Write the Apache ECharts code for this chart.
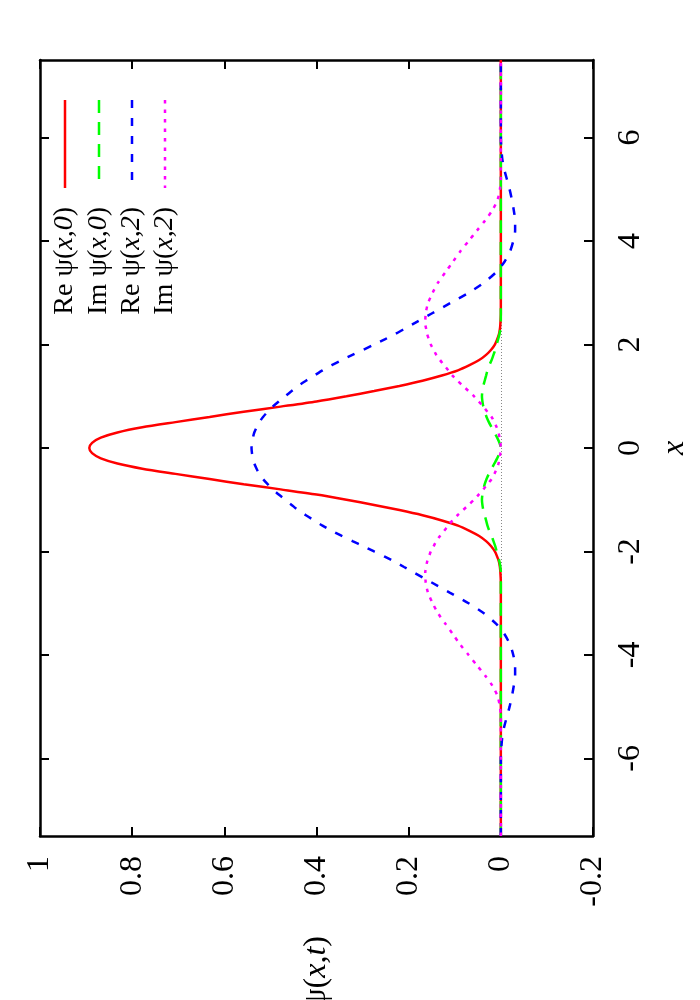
<!DOCTYPE html>
<html><head><meta charset="utf-8">
<script src="https://cdn.jsdelivr.net/npm/echarts@6/dist/echarts.min.js"></script>
<style>html,body{margin:0;padding:0;background:#fff}#c{width:700px;height:1000px}</style>
</head><body><div id="c"></div>
<script>
// x positions (independent variable, drawn on the vertical axis)
const xs = [-7.5,-7,-6.5,-6,-5.8,-5.6,-5.4,-5.2,-5,-4.8,-4.6,-4.4,-4.2,-4,-3.8,-3.6,-3.4,-3.2,-3,-2.8,-2.6,
  -2.4,-2.3,-2.2,-2.1,-2,-1.9,-1.8,-1.7,-1.6,-1.5,-1.4,-1.3,-1.2,-1.1,-1,-0.9,-0.8,-0.7,-0.6,-0.5,-0.4,-0.3,-0.2,-0.1,
  0,
  0.1,0.2,0.3,0.4,0.5,0.6,0.7,0.8,0.9,1,1.1,1.2,1.3,1.4,1.5,1.6,1.7,1.8,1.9,2,2.1,2.2,2.3,2.4,
  2.6,2.8,3,3.2,3.4,3.6,3.8,4,4.2,4.4,4.6,4.8,5,5.2,5.4,5.6,5.8,6,6.5,7,7.5];

// Re psi(x,0)
const reX0 = [0,0,0,0,0,0,0,0,0,0,0,0,0,0,0,0,0,0,0,0,0,
  0.001,0.002,0.004,0.008,0.013,0.021,0.032,0.047,0.068,0.093,0.128,0.17,0.22,0.275,0.335,0.4,0.478,0.558,0.632,0.706,0.778,0.832,0.868,0.887,
  0.893,
  0.887,0.868,0.832,0.778,0.706,0.632,0.558,0.478,0.4,0.335,0.275,0.22,0.17,0.128,0.093,0.068,0.047,0.032,0.021,0.013,0.008,0.004,0.002,0.001,
  0,0,0,0,0,0,0,0,0,0,0,0,0,0,0,0,0,0,0,0,0];

// Im psi(x,0)
const imX0 = [0,0,0,0,0,0,0,0,0,0,0,0,0,0,0,0,0,0,0,0,0,
  0,0.001,0.003,0.006,0.009,0.012,0.016,0.02,0.025,0.029,0.032,0.035,0.038,0.04,0.041,0.04,0.038,0.035,0.031,0.026,0.02,0.014,0.008,0.003,
  0,
  0.003,0.008,0.014,0.02,0.026,0.031,0.035,0.038,0.04,0.041,0.04,0.038,0.035,0.032,0.029,0.025,0.02,0.016,0.012,0.009,0.006,0.003,0.001,0,
  0,0,0,0,0,0,0,0,0,0,0,0,0,0,0,0,0,0,0,0,0];

// Re psi(x,2)
const reX2 = [0,0,0,0,-0.001,-0.003,-0.007,-0.013,-0.019,-0.024,-0.028,-0.031,-0.031,-0.027,-0.02,-0.008,0.01,0.036,0.07,0.11,0.15,
  0.19,0.21,0.23,0.252,0.275,0.298,0.322,0.345,0.367,0.387,0.405,0.423,0.44,0.454,0.468,0.482,0.495,0.506,0.516,0.524,0.53,0.535,0.538,0.54,
  0.541,
  0.54,0.538,0.535,0.53,0.524,0.516,0.506,0.495,0.482,0.468,0.454,0.44,0.423,0.405,0.387,0.367,0.345,0.322,0.298,0.275,0.252,0.23,0.21,0.19,
  0.15,0.11,0.07,0.036,0.01,-0.008,-0.02,-0.027,-0.031,-0.031,-0.028,-0.024,-0.019,-0.013,-0.007,-0.003,-0.001,0,0,0,0];

// Im psi(x,2)
const imX2 = [0,0,0,0,0,0,0,0,0.002,0.007,0.018,0.034,0.052,0.07,0.088,0.104,0.12,0.136,0.148,0.158,0.163,
  0.164,0.162,0.16,0.156,0.152,0.146,0.14,0.132,0.123,0.114,0.105,0.094,0.082,0.07,0.058,0.048,0.038,0.029,0.02,0.014,0.009,0.005,0.003,0.001,
  0,
  0.001,0.003,0.005,0.009,0.014,0.02,0.029,0.038,0.048,0.058,0.07,0.082,0.094,0.105,0.114,0.123,0.132,0.14,0.146,0.152,0.156,0.16,0.162,0.164,
  0.163,0.158,0.148,0.136,0.12,0.104,0.088,0.07,0.052,0.034,0.018,0.007,0.002,0,0,0,0,0,0,0,0];

const psiTicks = [-0.2, 0, 0.2, 0.4, 0.6, 0.8, 1];
const xTicks = [-6, -4, -2, 0, 2, 4, 6];
const seriesLabels = ['{n|Re ψ(}{i|x,0}{n|)}', '{n|Im ψ(}{i|x,0}{n|)}', '{n|Re ψ(}{i|x,2}{n|)}', '{n|Im ψ(}{i|x,2}{n|)}'];
const seriesNames = ['Re ψ(x,0)', 'Im ψ(x,0)', 'Re ψ(x,2)', 'Im ψ(x,2)'];
const seriesValues = [reX0, imX0, reX2, imX2];
const psiAxisName = '{n|ψ(}{i|x,t}{n|)}';
const xAxisName = '{i|x}';

const colors = ['#ff0000', '#00ff00', '#0000ff', '#ff00ff'];
const dashes = ['solid', [13, 9], [8, 10], [3.5, 6]];
const FONT = '"Liberation Serif", "Times New Roman", serif';
const FS = 32;
const LFS = 28;
const rich = {
  n: {fontFamily: FONT, fontSize: FS, color: '#000'},
  i: {fontFamily: FONT, fontSize: FS, color: '#000', fontStyle: 'italic'}
};
const legendRich = {
  n: {fontFamily: FONT, fontSize: LFS, color: '#000'},
  i: {fontFamily: FONT, fontSize: LFS, color: '#000', fontStyle: 'italic'}
};

const chart = echarts.init(document.getElementById('c'), null, {renderer: 'canvas'});

const axisLineStyle = {show: true, onZero: false, lineStyle: {color: '#000', width: 2.5}};
const tickStyle = {show: true, inside: true, length: 9, lineStyle: {color: '#000', width: 2}};

const series = seriesValues.map((vals, k) => {
  const s = {
    name: seriesNames[k],
    type: 'line',
    xAxisIndex: 0, yAxisIndex: 0,
    data: xs.map((x, j) => [vals[j], x]),
    showSymbol: false, symbol: 'none',
    smooth: 0.25,
    lineStyle: {color: colors[k], width: 2.5, type: dashes[k]},
    itemStyle: {color: colors[k]},
    z: 3 + k
  };
  if (k === 0) {
    s.markLine = {
      silent: true, symbol: ['none', 'none'], label: {show: false},
      lineStyle: {color: '#888', type: [1, 2], width: 1},
      z: 1,
      data: [{xAxis: 0}]
    };
  }
  return s;
});

// Legend drawn as rotated graphic (the whole chart is rotated a quarter turn)
const legendX = [65, 99, 132, 165];
const legendGraphics = [];
seriesLabels.forEach((lab, k) => {
  legendGraphics.push({
    type: 'line',
    shape: {x1: legendX[k], y1: 100, x2: legendX[k], y2: 188},
    style: {stroke: colors[k], lineWidth: 2.5, lineDash: dashes[k] === 'solid' ? null : dashes[k]},
    z: 10
  });
  legendGraphics.push({
    type: 'text',
    x: legendX[k], y: 207,
    rotation: Math.PI / 2,
    style: {text: lab, rich: legendRich, fontFamily: FONT, fontSize: LFS, fill: '#000', align: 'right', verticalAlign: 'middle'},
    z: 10
  });
});

chart.setOption({
  animation: false,
  backgroundColor: '#fff',
  grid: {left: 40, right: 107, top: 60, bottom: 164, containLabel: false, outerBoundsMode: 'none'},
  xAxis: [{
    type: 'value', position: 'bottom', inverse: true, min: -0.2, max: 1,
    axisLine: axisLineStyle, axisTick: Object.assign({}, tickStyle, {customValues: psiTicks}),
    axisLabel: {customValues: psiTicks, rotate: 90, margin: 20, fontFamily: FONT, fontSize: FS, color: '#000', showMinLabel: true, showMaxLabel: true},
    splitLine: {show: false},
    name: psiAxisName, nameLocation: 'middle', nameRotate: 90, nameGap: 100,
    nameTextStyle: {fontFamily: FONT, fontSize: FS, color: '#000', rich: rich}
  }, {
    type: 'value', position: 'top', inverse: true, min: -0.2, max: 1,
    axisLine: axisLineStyle, axisTick: Object.assign({}, tickStyle, {customValues: psiTicks}),
    axisLabel: {show: false}, splitLine: {show: false}
  }],
  yAxis: [{
    type: 'value', position: 'right', min: -7.5, max: 7.5,
    axisLine: axisLineStyle, axisTick: Object.assign({}, tickStyle, {customValues: xTicks}),
    axisLabel: {customValues: xTicks, rotate: 90, margin: 22, fontFamily: FONT, fontSize: FS, color: '#000'},
    splitLine: {show: false},
    name: xAxisName, nameLocation: 'middle', nameRotate: 90, nameGap: 66,
    nameTextStyle: {fontFamily: FONT, fontSize: FS, color: '#000', rich: rich}
  }, {
    type: 'value', position: 'left', min: -7.5, max: 7.5,
    axisLine: axisLineStyle, axisTick: Object.assign({}, tickStyle, {customValues: xTicks}),
    axisLabel: {show: false}, splitLine: {show: false}
  }],
  graphic: legendGraphics,
  series: series
});
</script></body></html>
